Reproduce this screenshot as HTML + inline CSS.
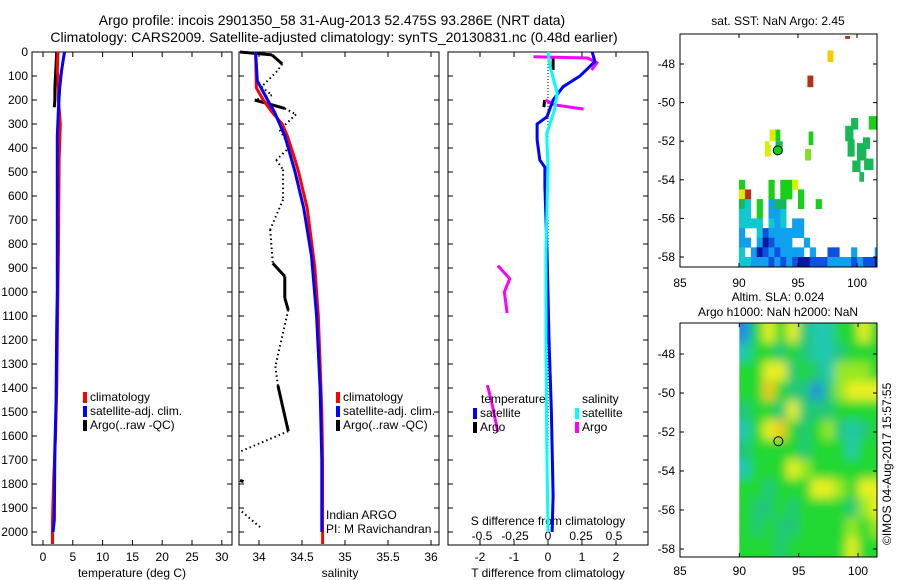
<!DOCTYPE html>
<html><head><meta charset="utf-8"><style>
html,body{margin:0;padding:0;background:#fff;}
svg{display:block;font-family:"Liberation Sans",sans-serif;}
text{fill:#000;font-size:12px;}
</style></head><body>
<svg id="fig" width="900" height="580" viewBox="0 0 900 580">
<text x="332" y="25" text-anchor="middle" style="font-size:14px">Argo profile: incois 2901350_58 31-Aug-2013 52.475S 93.286E (NRT data)</text>
<text x="334" y="42" text-anchor="middle" style="font-size:14px">Climatology: CARS2009. Satellite-adjusted climatology: synTS_20130831.nc (0.48d earlier)</text>
<g id="g1"></g>
<g id="g2"></g>
<g id="g3"></g>
<g id="g4"></g>
<g id="g5"></g>
<text transform="translate(891,545) rotate(-90)" style="font-size:12px">©IMOS 04-Aug-2017 15:57:55</text>
</svg>
<script>
// ---------- data ----------
const depthTicks = [0,100,200,300,400,500,600,700,800,900,1000,1100,1200,1300,1400,1500,1600,1700,1800,1900,2000];
const tempTicks = [0,5,10,15,20,25,30];
const salTicks = [34,34.5,35,35.5,36];
const salTickLabels = ["34","34.5","35","35.5","36"];
const tdTicks = [-2,-1,0,1,2];
const sdTicks = [-0.5,-0.25,0,0.25,0.5];
const sdTickLabels = ["-0.5","-0.25","0","0.25","0.5"];

const tClimDepth = [0,80,100,200,300,450,800,1000,1400,1600,1780,1950,2050];
const tClimVal   = [2.5,2.4,2.5,2.6,2.9,2.7,2.6,2.5,2.3,2.1,1.8,1.6,1.6];
const tSatDepth  = [0,30,80,150,230,350,700,1000,1150,1450,1650,1950,2000];
const tSatVal    = [3.6,3.4,3.1,2.8,2.6,2.4,2.4,2.4,2.3,2.2,2.0,1.9,1.7];
const tArgoDepth = [0,50,100,150,200,230];
const tArgoVal   = [2.3,2.2,2.1,2.0,2.0,1.9];

const sClimDepth = [0,150,200,250,300,350,450,500,650,900,1100,1300,1500,1700,2050];
const sClimVal   = [33.96,33.97,34.05,34.15,34.27,34.33,34.42,34.46,34.56,34.65,34.69,34.71,34.73,34.74,34.74];
const sSatDepth  = [0,120,200,250,350,500,650,850,1100,1400,1700,2000];
const sSatVal    = [33.96,33.98,34.1,34.18,34.3,34.42,34.52,34.61,34.67,34.71,34.73,34.73];
const sArgoDepth = [0,12,50,80,145,180,200,235,260,325,395,450,490,615,740,880,935,1025,1075,1310,1390,1580,1665,1785,1790,1915,1985];
const sArgoVal   = [33.78,34.15,34.27,34.21,34.03,34.15,33.95,34.30,34.43,34.24,34.36,34.20,34.28,34.28,34.13,34.16,34.30,34.30,34.34,34.19,34.22,34.34,33.78,33.78,33.82,33.80,34.03];
const sArgoSolid = [1,1,0,0,0,0,1,0,0,0,0,0,0,0,0,1,1,1,0,0,1,0,2,1,2,0,0];

const tdSatDepth = [0,40,100,145,200,270,300,365,450,480,560,825,1200,1500,1850,2000];
const tdSatVal   = [1.3,1.38,0.94,0.44,0.15,-0.03,-0.32,-0.32,-0.24,-0.09,-0.09,-0.03,0.03,0.1,0.15,0.12];
const sdSatDepth = [0,60,170,240,340,480,825,1200,1600,2000];
const sdSatVal   = [0,0.015,0.07,0.05,-0.01,0,-0.015,-0.015,-0.01,0];
const sdArgoDepth1 = [20,25,45,75];
const sdArgoVal1   = [-0.11,0.30,0.37,0.33];
const sdArgoDepth2 = [200,220,238];
const sdArgoVal2   = [-0.02,0.05,0.27];
const sdArgoDepth3 = [890,945,1000,1088];
const sdArgoVal3   = [-0.38,-0.29,-0.33,-0.31];
const sdArgoDepth4 = [1388,1450,1583];
const sdArgoVal4   = [-0.46,-0.43,-0.38];

const latTicks = [-48,-50,-52,-54,-56,-58];
const lonTicks = [85,90,95,100];
const argoLon = 93.286, argoLat = -52.475;

const sstLon = [99,97.5,95.8,92.2,92.6,93.1,92.2,93.1,95.6,95.9,99,99.5,100,100.5,101,99.2,99.6,100.2,100.6];
const sstLat = [-46.7,-47.9,-49.2,-52.8,-52,-52,-52.4,-52.6,-53,-52.2,-52,-51.4,-53,-52.4,-51.4,-52.8,-53.6,-54.1,-53.5];
const sstW   = [0.4,0.5,0.5,0.5,0.8,0.4,0.4,0.6,0.5,0.4,0.7,0.6,0.8,0.6,0.7,0.6,0.7,0.4,0.8];
const sstH   = [0.15,0.6,0.6,0.6,0.6,0.6,0.4,0.6,0.6,0.7,0.8,0.6,0.9,0.6,0.7,0.9,0.6,0.5,0.6];
const sstC   = ["r","o","r","y","y","g","y","G","l","g","G","G","G","G","g","G","G","G","G"];
const sstRows = [
 "g....g.ggy..............",
 "yr...g.gg.g.............",
 "Gc.g.bGG..g..g..........",
 "cc.g.bbc................",
 "cccc.cbc.bb.............",
 "b..cBbbbbbb.............",
 "bb.bNBbbb..b............",
 "c.bNBbBbbbb.b..BB..b...b",
 "ccbbbBbBbBNNBBBbbbbBbBBN"];
const sstRowLat0 = -54.0;

const slaRows = [
 [-1,2,4,2,4,1,0,0,2,2,4,2],
 [0,2,2,1,2,1,0,0,1,2,2,2],
 [2,2,4,4,1,2,1,0,3,3,3,2],
 [2,2,5,2,1,1,-1,1,3,4,4,4],
 [1,2,2,1,4,1,1,1,2,2,2,2],
 [0,2,4,5,2,1,2,3,1,0,1,2],
 [1,2,2,2,2,1,2,2,2,0,2,2],
 [0,2,2,2,4,3,2,2,2,2,2,2],
 [2,2,1,2,2,2,4,4,3,2,4,4],
 [2,1,1,2,1,2,2,2,2,1,3,4],
 [2,1,2,1,1,2,2,2,2,3,2,3],
 [2,2,2,1,2,2,2,2,2,4,2,2]];
const slaLat0 = -46.4;

// ---------- helpers ----------
const NS="http://www.w3.org/2000/svg";
function mk(parent,tag,attrs,txt){const e=document.createElementNS(NS,tag);for(const k in attrs)e.setAttribute(k,attrs[k]);if(txt!==undefined)e.textContent=txt;parent.appendChild(e);return e;}
const PT=52, PB=545, DPX=0.24;
const yD = d => PT + d*DPX;

function frame(g,x0,x1){
  const r=mk(g,'rect',{x:x0,y:PT,width:x1-x0,height:PB-PT,fill:'none',stroke:'#000','stroke-width':1});
  
  
  depthTicks.forEach(d=>{
    mk(g,'line',{x1:x0,x2:x0+5,y1:yD(d),y2:yD(d),stroke:'#000'});
    mk(g,'line',{x1:x1,x2:x1-5,y1:yD(d),y2:yD(d),stroke:'#000'});
  });
}
function line(g,xs,ys,fx,col,w,name,dash){
  const p=xs.map((v,i)=>fx(v).toFixed(1)+','+yD(ys[i]).toFixed(1)).join(' ');
  const e=mk(g,'polyline',{points:p,fill:'none',stroke:col,'stroke-width':w});
  if(dash)e.setAttribute('stroke-dasharray',dash);
  
  
  return e;
}
function legend(g,x,y,items){
  items.forEach((it,i)=>{
    mk(g,'rect',{x:x,y:y+i*14-9,width:4,height:11,fill:it[1]});
    const t=mk(g,'text',{x:x+7,y:y+i*14},it[0]);
    
    
  });
}

// ---------- panel 1 ----------
const g1=document.getElementById('g1');
const xT = v => 43 + v*5.96;
frame(g1,32,232);
tempTicks.forEach(v=>{mk(g1,'line',{x1:xT(v),x2:xT(v),y1:PT,y2:PT+5,stroke:'#000'});mk(g1,'line',{x1:xT(v),x2:xT(v),y1:PB,y2:PB-5,stroke:'#000'});
  const t=mk(g1,'text',{x:xT(v),y:561,'text-anchor':'middle'},String(v));});
depthTicks.forEach(d=>{const t=mk(g1,'text',{x:28,y:yD(d)+4,'text-anchor':'end'},String(d));});
mk(g1,'text',{x:132,y:577,'text-anchor':'middle'},'temperature (deg C)');
line(g1,tArgoVal,tArgoDepth,xT,'#000',3,'temp-argo-line');
line(g1,tClimVal,tClimDepth,xT,'#f00',3,'temp-climatology-line');
line(g1,tSatVal,tSatDepth,xT,'#00f',3,'temp-satellite-line');
legend(g1,83,401,[['climatology','#f00'],['satellite-adj. clim.','#00f'],['Argo(..raw -QC)','#000']]);

// ---------- panel 2 ----------
const g2=document.getElementById('g2');
const xS = v => 259 + (v-34)*86;
frame(g2,239,439);
salTicks.forEach((v,i)=>{mk(g2,'line',{x1:xS(v),x2:xS(v),y1:PT,y2:PT+5,stroke:'#000'});mk(g2,'line',{x1:xS(v),x2:xS(v),y1:PB,y2:PB-5,stroke:'#000'});
  const t=mk(g2,'text',{x:xS(v),y:561,'text-anchor':'middle'},salTickLabels[i]);});
mk(g2,'text',{x:340,y:577,'text-anchor':'middle'},'salinity');
for(let i=0;i<sArgoDepth.length-1;i++){
  if(sArgoSolid[i]===2)continue;
  const e=mk(g2,'line',{x1:xS(sArgoVal[i]),y1:yD(sArgoDepth[i]),x2:xS(sArgoVal[i+1]),y2:yD(sArgoDepth[i+1]),stroke:'#000','stroke-width':sArgoSolid[i]?3:2});
  if(!sArgoSolid[i])e.setAttribute('stroke-dasharray','1.5,3');
  
  
}
line(g2,sClimVal,sClimDepth,xS,'#f00',3,'salinity-climatology-line');
line(g2,sSatVal,sSatDepth,xS,'#00f',3,'salinity-satellite-line');
legend(g2,336,401,[['climatology','#f00'],['satellite-adj. clim.','#00f'],['Argo(..raw -QC)','#000']]);
mk(g2,'text',{x:326,y:519},'Indian ARGO');
mk(g2,'text',{x:326,y:533},'PI: M Ravichandran');

// ---------- panel 3 ----------
const g3=document.getElementById('g3');
const xTD = v => 548 + v*34;
const xSD = v => 548 + v*132;
frame(g3,448,648);
tdTicks.forEach(v=>{mk(g3,'line',{x1:xTD(v),x2:xTD(v),y1:PT,y2:PT+5,stroke:'#000'});mk(g3,'line',{x1:xTD(v),x2:xTD(v),y1:PB,y2:PB-5,stroke:'#000'});
  const t=mk(g3,'text',{x:xTD(v),y:561,'text-anchor':'middle'},String(v));});
sdTicks.forEach((v,i)=>{const t=mk(g3,'text',{x:xSD(v),y:540,'text-anchor':'middle'},sdTickLabels[i]);});
mk(g3,'text',{x:548,y:525,'text-anchor':'middle'},'S difference from climatology');
mk(g3,'text',{x:548,y:577,'text-anchor':'middle'},'T difference from climatology');
line(g3,[0,0],[0,2000],xTD,'#000',1,'zero-line','1,2');
line(g3,[0.15,0.15],[20,75],xTD,'#000',3,'tdiff-argo-line');
line(g3,[-0.1,-0.12],[200,230],xTD,'#000',3,'tdiff-argo-line');
line(g3,sdArgoVal1,sdArgoDepth1,xSD,'#f0f',3,'sdiff-argo-line');
line(g3,sdArgoVal2,sdArgoDepth2,xSD,'#f0f',3,'sdiff-argo-line');
line(g3,sdArgoVal3,sdArgoDepth3,xSD,'#f0f',3,'sdiff-argo-line');
line(g3,sdArgoVal4,sdArgoDepth4,xSD,'#f0f',3,'sdiff-argo-line');
line(g3,tdSatVal,tdSatDepth,xTD,'#00f',3,'tdiff-satellite-line');
line(g3,sdSatVal,sdSatDepth,xSD,'#0ff',3,'sdiff-satellite-line');
mk(g3,'text',{x:481,y:403},'temperature');
mk(g3,'text',{x:582,y:403},'salinity');
legend(g3,473,417,[['satellite','#00f'],['Argo','#000']]);
legend(g3,575,417,[['satellite','#0ff'],['Argo','#f0f']]);

// ---------- maps ----------
const sstCol={r:'#b83010',o:'#f8c800',y:'#d8f000',g:'#18d018',G:'#18b858',l:'#80e020',c:'#10c8d0',b:'#10a0f0',B:'#1050e0',N:'#0818a0'};
const slaCol={'-1':'#2090e0','0':'#20c8b0','1':'#20c878','2':'#20d830','3':'#98e820','4':'#e8f020','5':'#f0c818'};
function mapAxes(g,x0,x1,y0,y1,lonX,latY,labelY){
  lonTicks.forEach(v=>{mk(g,'line',{x1:lonX(v),x2:lonX(v),y1:y1,y2:y1-4,stroke:'#000'});mk(g,'line',{x1:lonX(v),x2:lonX(v),y1:y0,y2:y0+4,stroke:'#000'});
    const t=mk(g,'text',{x:lonX(v),y:labelY,'text-anchor':'middle'},String(v));});
  latTicks.forEach(v=>{mk(g,'line',{x1:x0,x2:x0+4,y1:latY(v),y2:latY(v),stroke:'#000'});mk(g,'line',{x1:x1,x2:x1-4,y1:latY(v),y2:latY(v),stroke:'#000'});
    const t=mk(g,'text',{x:x0-5,y:latY(v)+4,'text-anchor':'end'},String(v));});
  const r=mk(g,'rect',{x:x0,y:y0,width:x1-x0,height:y1-y0,fill:'none',stroke:'#000'});
  
  
}
const g4=document.getElementById('g4');
const lx1 = v => 680 + (v-85)*11.8;
const ly1 = v => 64 + (-48-v)*19.3;
mk(g4,'text',{x:778,y:25,'text-anchor':'middle'},'sat. SST: NaN  Argo: 2.45');
sstLon.forEach((lo,i)=>{
  const e=mk(g4,'rect',{x:lx1(sstLon[i]),y:ly1(sstLat[i]+sstH[i]),width:sstW[i]*11.8,height:sstH[i]*19.3,fill:sstCol[sstC[i]]});
  
  
});
sstRows.forEach((row,r)=>{
  for(let c=0;c<row.length;c++){const ch=row[c];if(ch==='.')continue;
    const lat=sstRowLat0-r*0.5, lon=90+c*0.5;
    const e=mk(g4,'rect',{x:lx1(lon),y:ly1(lat),width:0.5*11.8+0.3,height:0.5*19.3+0.3,fill:sstCol[ch]});
    
    }
});
mk(g4,'rect',{x:877,y:30,width:20,height:240,fill:'#fff'});
mapAxes(g4,680,877,34,267,lx1,ly1,287);
mk(g4,'circle',{cx:lx1(argoLon),cy:ly1(argoLat),r:4.5,fill:'#10d010',stroke:'#000'});

const g5=document.getElementById('g5');
const lx2 = v => 680 + (v-85)*11.87;
const ly2 = v => 354 + (-48-v)*19.5;
mk(g5,'text',{x:778,y:301,'text-anchor':'middle'},'Altim. SLA: 0.024');
mk(g5,'text',{x:778,y:316,'text-anchor':'middle'},'Argo h1000: NaN h2000: NaN');
const defs=mk(g5,'defs',{});
const f=mk(defs,'filter',{id:'blur',x:'-5%',y:'-5%',width:'110%',height:'110%'});
mk(f,'feGaussianBlur',{stdDeviation:5});
const clip=mk(defs,'clipPath',{id:'slaclip'});
mk(clip,'rect',{x:lx2(90),y:323,width:877-lx2(90),height:234});
const field=mk(mk(g5,'g',{'clip-path':'url(#slaclip)'}),'g',{filter:'url(#blur)'});
mk(field,'rect',{x:lx2(90)-10,y:313,width:160,height:260,fill:'#20d030'});
slaRows.forEach((row,r)=>row.forEach((v,c)=>{
  const e=mk(field,'rect',{x:lx2(90+c)-(c===0?8:0),y:ly2(slaLat0-r)-(r===0?8:0),width:11.87+(c===0?8:0)+(c===11?12:0),height:19.5+(r===0?8:0)+(r===11?10:0),fill:slaCol[String(v)]});
  
  
}));
mapAxes(g5,680,877,323,557,lx2,ly2,575);
mk(g5,'circle',{cx:lx2(argoLon),cy:ly2(argoLat),r:4.5,fill:'none',stroke:'#000'});
</script>
</body></html>
